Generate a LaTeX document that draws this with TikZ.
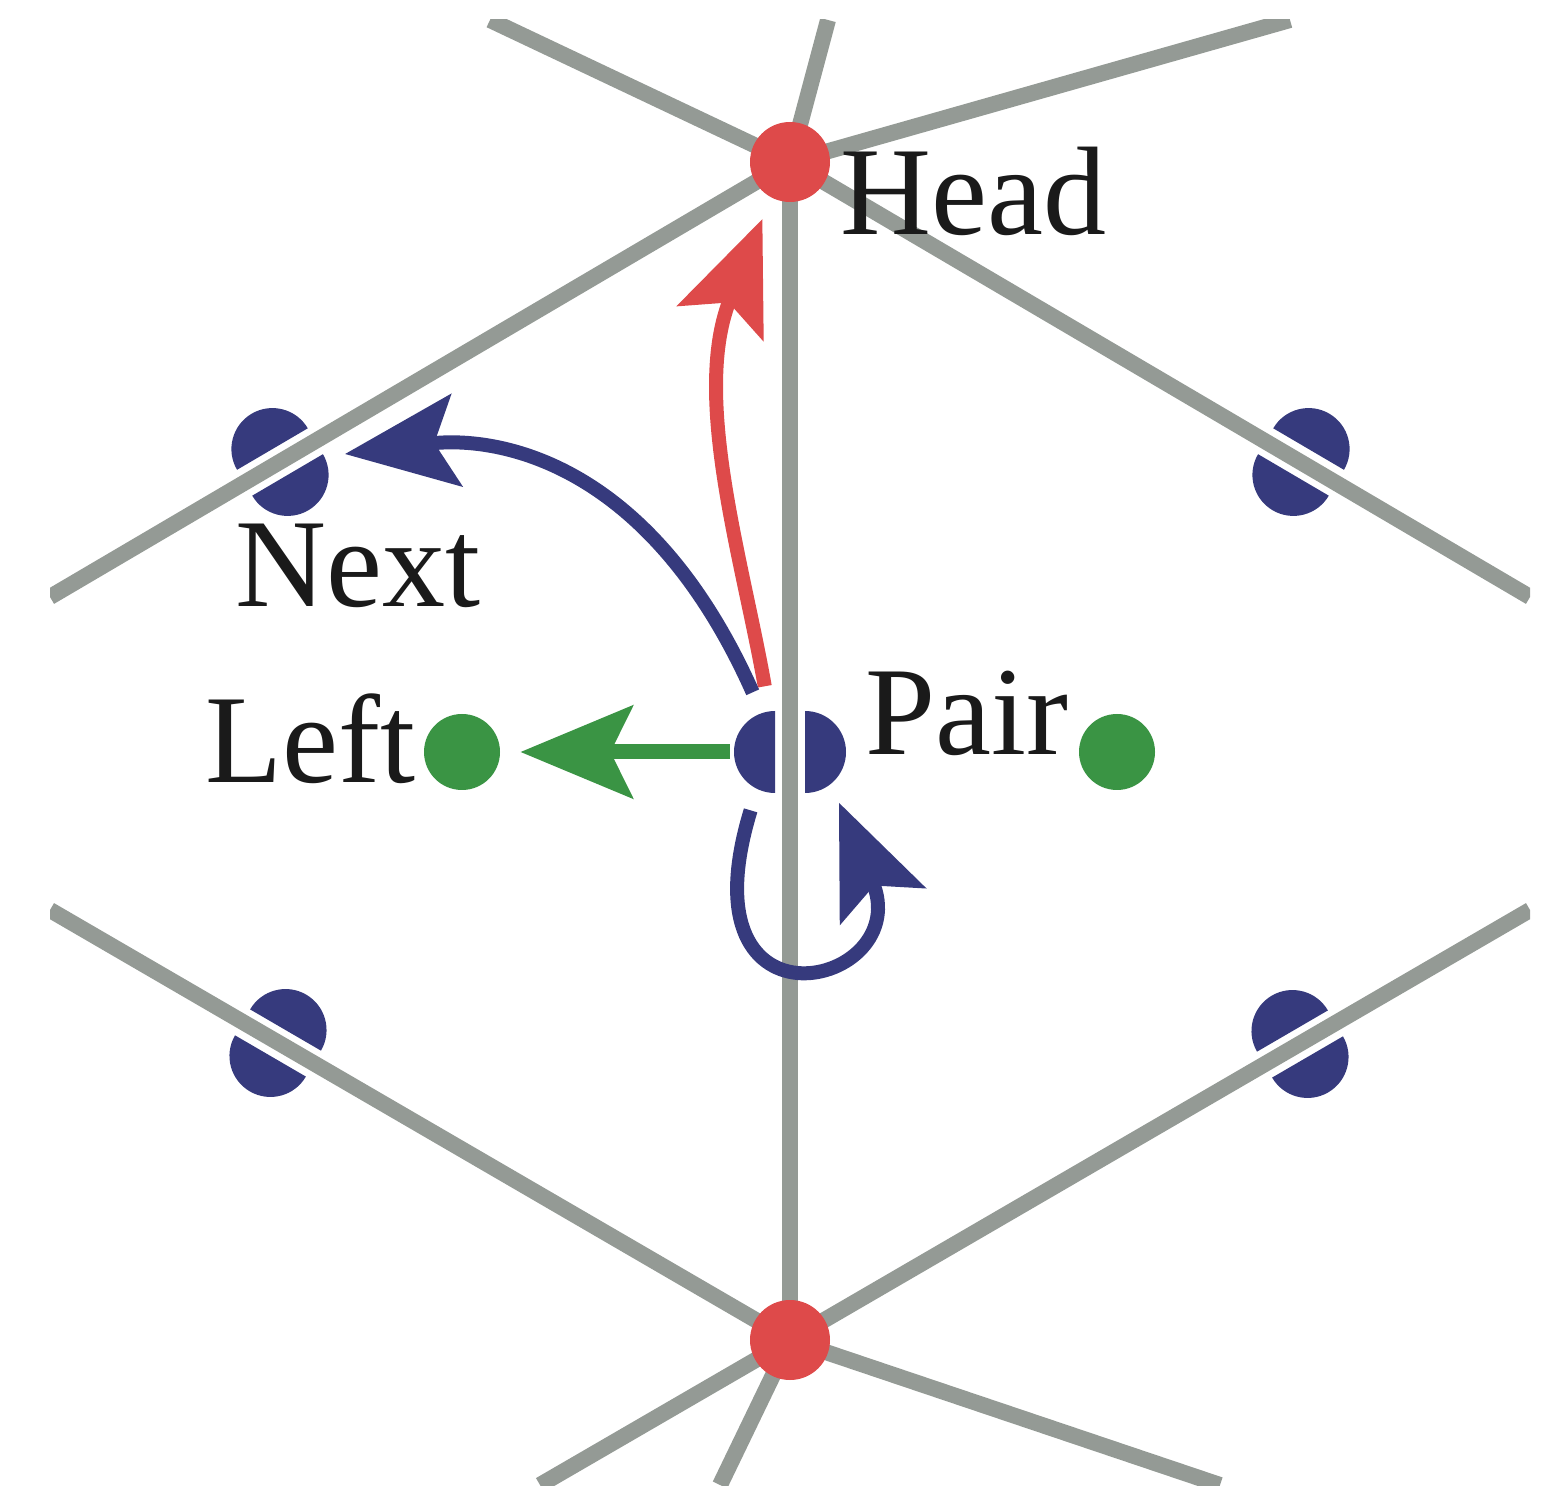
\documentclass[tikz,border=0pt]{standalone}
\usepackage{fontspec}
\setmainfont{Liberation Serif}
\usetikzlibrary{arrows.meta,backgrounds}
\definecolor{lgray}{HTML}{949A95}
\definecolor{dred}{HTML}{DE4A4A}
\definecolor{dblue}{HTML}{363A7D}
\definecolor{dgreen}{HTML}{3A9444}
\definecolor{ink}{HTML}{1A1A1A}
\begin{document}
\begin{tikzpicture}[x=0.5pt,y=0.5pt,
  edgeline/.style={draw=lgray,line width=8pt},
  reddot/.style={circle,fill=dred,minimum size=40pt,inner sep=0pt},
  greendot/.style={circle,fill=dgreen,minimum size=38pt,inner sep=0pt},
  hub/.style={circle,minimum size=#1,inner sep=0pt},
  lbl/.style={anchor=base west,inner sep=0pt,text=ink,font=\fontsize{63}{70}\selectfont},
  bigarrow/.style={-{Stealth[length=56pt,width=46pt,inset=11pt]}},
  splitdot/.pic={
    \fill[dblue] (41,15) arc[start angle=0,end angle=180,radius=41] -- cycle;
    \fill[dblue] (41,-15) arc[start angle=0,end angle=-180,radius=41] -- cycle;
  }
]
\useasboundingbox (0,0) rectangle (1558,1490);

% nodes
\node[reddot] (H) at (790,1328) {};
\node[reddot] (B) at (790,150) {};
\node[hub=70pt] (P) at (790,738) {};
\node[hub=65pt] (N) at (280,1028) {};
\coordinate (R) at (1301,1028);
\coordinate (LL) at (278,447);
\coordinate (LR) at (1300,446);
\node[greendot] (L) at (462,738) {};
\node[greendot] (G) at (1117,738) {};

% split dots
\pic[rotate=30.4] at (N) {splitdot};
\pic[rotate=-30.4] at (R) {splitdot};
\pic[rotate=-30.2] at (LL) {splitdot};
\pic[rotate=30.2] at (LR) {splitdot};
\pic[rotate=90] at (P) {splitdot};

% grid lines
\begin{scope}[on background layer]
  \clip (50,5) rectangle (1530,1470);
  \coordinate (e1) at (490,1470);
  \coordinate (e2) at (828,1470);
  \coordinate (e3) at (1290,1470);
  \coordinate (e4) at (50,893);
  \coordinate (e5) at (1530,893);
  \coordinate (e6) at (50,580);
  \coordinate (e7) at (1530,580);
  \coordinate (e8) at (540,5);
  \coordinate (e9) at (720,5);
  \coordinate (e10) at (1220,5);
  \draw[edgeline] (H.center) -- (e1);
  \draw[edgeline] (H.center) -- (e2);
  \draw[edgeline] (H.center) -- (e3);
  \draw[edgeline] (H.center) -- (e4);
  \draw[edgeline] (H.center) -- (e5);
  \draw[edgeline] (H.center) -- (B.center);
  \draw[edgeline] (B.center) -- (e6);
  \draw[edgeline] (B.center) -- (e7);
  \draw[edgeline] (B.center) -- (e8);
  \draw[edgeline] (B.center) -- (e9);
  \draw[edgeline] (B.center) -- (e10);
\end{scope}

% labels
\node[lbl] (headlbl) at (840,1255) {Head};
\node[lbl] (nextlbl) at (235,883) {Next};
\node[lbl] (leftlbl) at (205,707) {Left};
\node[lbl] (pairlbl) at (865,735) {Pair};

% arrows
\draw[dgreen,line width=7.5pt,bigarrow,shorten >=10pt,shorten <=-5pt] (P) -- (L);
\draw[dred,line width=7pt,bigarrow,shorten >=11.5pt] (P.111) .. controls +(100:130) and +(248:213) .. (H.242);
\draw[dblue,line width=7pt,bigarrow] (P.122) .. controls +(114:262) and +(7:210) .. (N);
\draw[dblue,line width=7pt,bigarrow] (P.236) .. controls +(253:245) and +(293:200) .. (P.314);
\end{tikzpicture}
\end{document}
